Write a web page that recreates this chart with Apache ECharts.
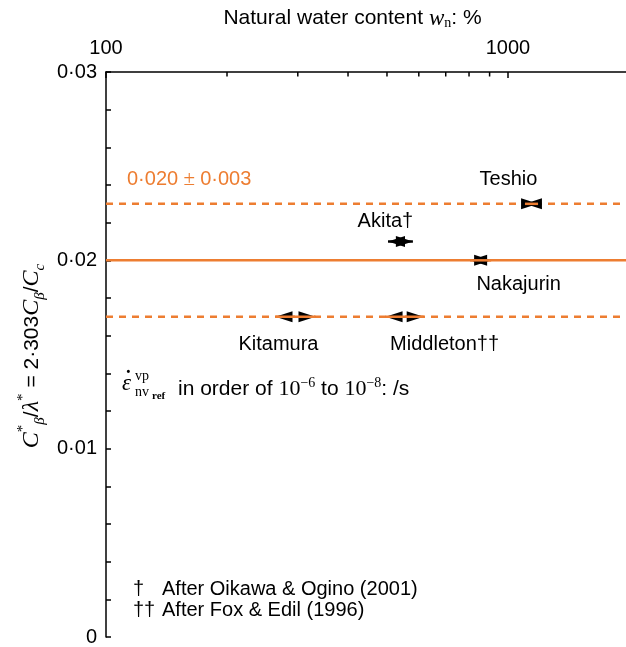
<!DOCTYPE html>
<html>
<head>
<meta charset="utf-8">
<script src="https://cdn.jsdelivr.net/npm/echarts@6/dist/echarts.min.js"></script>
<style>
  html, body { margin: 0; padding: 0; background: #fff; }
  #chart { width: 626px; height: 647px; }
</style>
</head>
<body>
<div id="chart"></div>
<script>
// Sites: natural water content range (%) and the C*β/λ* ratio
const sites  = ['Teshio', 'Akita†', 'Nakajurin', 'Kitamura', 'Middleton††'];
const wnLow  = [1102, 503, 805, 264, 496];
const wnMid  = [1144, 540, 855, 296, 553];
const wnHigh = [1188, 580, 908, 332, 617];
const ratio  = [0.023, 0.021, 0.020, 0.017, 0.017];

// Reference band 0·020 ± 0·003
const refMean = 0.020;
const refBand = 0.003;

// Axis ticks
const xMajorTicks = [100, 1000];
const xMinorTicks = [200, 300, 400, 500, 600, 700, 800, 900, 2000];
const yTicks = [0, 0.01, 0.02, 0.03];

const ORANGE = '#ED7D31';
const SANS = '"Liberation Sans", Arial, sans-serif';
const SERIF = '"Liberation Serif", "DejaVu Serif", serif';
const FS = 20;

const dot = v => (v === 0 ? '0' : String(v).replace('.', '·'));

// where each site name sits relative to its marker
const labelOffset = {
  'Teshio': [-23, -24],
  'Akita†': [-15, -20],
  'Nakajurin': [38, 24],
  'Kitamura': [-17, 28],
  'Middleton††': [40, 28]
};
// colour of the range line through each marker
const rangeLineColor = {
  'Teshio': ORANGE, 'Akita†': '#000', 'Nakajurin': ORANGE, 'Kitamura': ORANGE, 'Middleton††': ORANGE
};

const xMin = xMajorTicks[0], xMax = 2000;
const yMin = yTicks[0], yMax = yTicks[yTicks.length - 1];

const refLevels = [
  { y: refMean + refBand, dashed: true },
  { y: refMean, dashed: false },
  { y: refMean - refBand, dashed: true }
];

const chart = echarts.init(document.getElementById('chart'), null, { renderer: 'canvas' });

const ARROW_L = 17, ARROW_H = 5.5;

const option = {
  animation: false,
  backgroundColor: '#fff',
  grid: { left: 106, top: 72, width: 523, height: 565, containLabel: false, outerBoundsMode: 'none' },
  xAxis: {
    type: 'log',
    logBase: 10,
    position: 'top',
    min: xMin,
    max: xMax,
    name: 'Natural water content {i|w}{sub|n}: %',
    nameLocation: 'middle',
    nameGap: 42,
    nameTextStyle: {
      color: '#000', fontFamily: SANS, fontSize: 21,
      padding: [0, 0, 0, -30],
      rich: {
        i: { fontFamily: SERIF, fontStyle: 'italic', fontSize: 23, color: '#000' },
        sub: { fontFamily: SERIF, fontSize: 14, verticalAlign: 'bottom', lineHeight: 12, color: '#000' }
      }
    },
    axisLine: { show: true, onZero: false, lineStyle: { color: '#000', width: 1.5 } },
    axisTick: { show: true, inside: true, length: 6, lineStyle: { color: '#000', width: 1.5 } },
    axisLabel: {
      show: true, color: '#000', fontFamily: SANS, fontSize: FS, margin: 14,
      showMaxLabel: false,
      formatter: v => (xMajorTicks.indexOf(Math.round(v)) >= 0 ? String(Math.round(v)) : '')
    },
    splitLine: { show: false }
  },
  yAxis: {
    type: 'value',
    min: yMin,
    max: yMax,
    interval: 0.01,
    axisLine: { show: true, onZero: false, lineStyle: { color: '#000', width: 1.5 } },
    axisTick: { show: true, inside: true, length: 5, lineStyle: { color: '#000', width: 1.5 } },
    minorTick: { show: true, splitNumber: 5, length: 5, lineStyle: { color: '#000', width: 1.5 } },
    axisLabel: { color: '#000', fontFamily: SANS, fontSize: FS, margin: 9, formatter: v => dot(+v.toFixed(2)) },
    splitLine: { show: false },
    minorSplitLine: { show: false }
  },
  series: [
    // reference band lines
    ...refLevels.map(r => ({
      type: 'line',
      z: 1,
      silent: true,
      showSymbol: false,
      data: [[xMin, r.y], [xMax, r.y]],
      lineStyle: { color: ORANGE, width: 2.5, type: r.dashed ? [7, 6] : 'solid' }
    })),
    // minor log ticks on the top axis
    {
      type: 'custom',
      z: 3,
      silent: true,
      data: xMinorTicks.map(v => [v]),
      encode: { x: 0 },
      renderItem: (params, api) => {
        const p = api.coord([api.value(0), yMax]);
        return {
          type: 'line',
          shape: { x1: p[0], y1: p[1], x2: p[0], y2: p[1] + 4.5 },
          style: { stroke: '#000', lineWidth: 1.5 }
        };
      }
    },
    // water-content ranges drawn as double arrows
    {
      type: 'custom',
      z: 4,
      silent: true,
      data: sites.map((s, i) => [wnLow[i], wnMid[i], wnHigh[i], ratio[i]]),
      encode: { x: [0, 1, 2], y: 3 },
      renderItem: (params, api) => {
        const y = api.value(3);
        const pL = api.coord([api.value(0), y]);
        const pR = api.coord([api.value(2), y]);
        return {
          type: 'group',
          children: [
            {
              type: 'polygon',
              shape: { points: [[pL[0], pL[1]], [pL[0] + ARROW_L, pL[1] - ARROW_H], [pL[0] + ARROW_L, pL[1] + ARROW_H]] },
              style: { fill: '#000' }
            },
            {
              type: 'polygon',
              shape: { points: [[pR[0], pR[1]], [pR[0] - ARROW_L, pR[1] - ARROW_H], [pR[0] - ARROW_L, pR[1] + ARROW_H]] },
              style: { fill: '#000' }
            },
            {
              type: 'line',
              shape: { x1: pL[0], y1: pL[1], x2: pR[0], y2: pR[1] },
              style: { stroke: rangeLineColor[sites[params.dataIndex]], lineWidth: 2.5 }
            }
          ]
        };
      }
    },
    // site names
    {
      type: 'scatter',
      z: 5,
      silent: true,
      symbolSize: 0,
      itemStyle: { opacity: 1 },
      data: sites.map((s, i) => ({
        value: [wnMid[i], ratio[i]],
        name: s,
        label: {
          show: true,
          position: 'inside',
          offset: labelOffset[s],
          formatter: s,
          color: '#000',
          opacity: 1,
          textBorderWidth: 0,
          textBorderColor: 'transparent',
          fontFamily: SANS,
          fontSize: FS
        }
      }))
    }
  ],
  graphic: [
    // band annotation
    {
      type: 'text',
      left: 127, top: 169,
      style: {
        text: dot(refMean.toFixed(3)) + '{pm| ± }' + dot(refBand.toFixed(3)),
        fill: ORANGE, font: FS + 'px ' + SANS,
        rich: { pm: { fontFamily: SERIF, fontSize: 21, fill: ORANGE } }
      }
    },
    // reference strain rate note
    {
      type: 'group',
      left: 122, top: 369,
      children: [
        { type: 'text', x: 0, y: 4, style: { text: 'ε', font: 'italic 23px ' + SERIF, fill: '#000' } },
        { type: 'text', x: 3, y: 2, style: { text: '˙', font: 'bold 20px ' + SERIF, fill: '#000' } },
        { type: 'text', x: 13, y: 1, style: { text: 'vp', font: '14px ' + SERIF, fill: '#000' } },
        { type: 'text', x: 13, y: 17, style: { text: 'nv', font: '14px ' + SERIF, fill: '#000' } },
        { type: 'text', x: 30, y: 23, style: { text: 'ref', font: 'bold 11px ' + SERIF, fill: '#000' } },
        {
          type: 'text', x: 56, y: 8,
          style: {
            text: 'in order of {m|10}{sup|−6} to {m|10}{sup|−8}: /s',
            font: '21px ' + SANS, fill: '#000',
            rich: {
              m: { fontFamily: SERIF, fontSize: 22, lineHeight: 27 },
              sup: { fontFamily: SERIF, fontSize: 14, lineHeight: 13, verticalAlign: 'top' }
            }
          }
        }
      ]
    },
    // sources
    { type: 'text', left: 133, top: 579, style: { text: '†', font: FS + 'px ' + SANS, fill: '#000' } },
    { type: 'text', left: 133, top: 600, style: { text: '††', font: FS + 'px ' + SANS, fill: '#000' } },
    { type: 'text', left: 162, top: 579, style: { text: 'After Oikawa & Ogino (2001)', font: FS + 'px ' + SANS, fill: '#000' } },
    { type: 'text', left: 162, top: 600, style: { text: 'After Fox & Edil (1996)', font: FS + 'px ' + SANS, fill: '#000' } },
    // y-axis title
    {
      type: 'text',
      x: 32, y: 356,
      rotation: Math.PI / 2,
      style: {
        text: '{i|C}{sup|*}{sub|β}{t|/}{i|λ}{sup|*}{t| = 2·303}{i|C}{sub|β}{t|/}{i|C}{sub|c}',
        align: 'center', verticalAlign: 'middle',
        rich: {
          t: { fontFamily: SANS, fontSize: 21, lineHeight: 32, fill: '#000' },
          i: { fontFamily: SERIF, fontStyle: 'italic', fontSize: 24, lineHeight: 32, fill: '#000' },
          sup: { fontFamily: SERIF, fontSize: 15, lineHeight: 13, verticalAlign: 'top', fill: '#000' },
          sub: { fontFamily: SERIF, fontStyle: 'italic', fontSize: 15, lineHeight: 13, verticalAlign: 'bottom', fill: '#000' }
        }
      }
    }
  ]
};

chart.setOption(option);
</script>
</body>
</html>
